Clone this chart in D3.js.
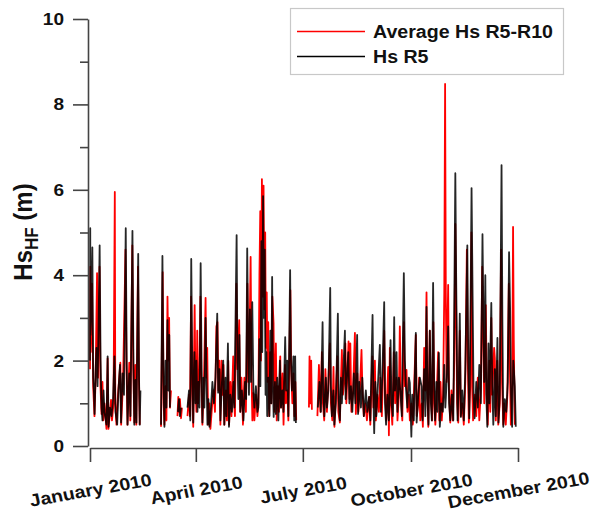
<!DOCTYPE html>
<html>
<head>
<meta charset="utf-8">
<script src="https://cdn.jsdelivr.net/npm/d3@7"></script>
<style>
  html, body { margin: 0; padding: 0; background: #fff; }
  svg { display: block; }
  text { font-family: "Liberation Sans", Arial, Helvetica, sans-serif; font-weight: bold; fill: #111; }
</style>
</head>
<body>
<svg id="chart" width="592" height="515"></svg>
<script>
// Axis ticks
const yTickValues = [0, 2, 4, 6, 8, 10];
const yMinorTicks = [1, 3, 5, 7, 9];
const xTickDays = [0, 90, 181, 273, 364];   // days after 1 Jan 2010

// Series labels
const seriesNames = ["Average Hs R5-R10", "Hs R5"];

// [day of 2010 (0 = 1 Jan), Hs in m]; null marks a gap in the record
const hsAvg = [
  [0,1.8],[0.3,4.2],[0.6,2.2],[1.7,3.8],[2.7,1.4],[3.8,0.7],[4.7,1.5],[6.0,4.05],[6.8,1.6],[8.1,4.2],
  [8.9,1.4],[9.8,0.75],[10.6,1.5],[11.3,0.6],[12.3,1.0],[14.0,0.4],[15.0,2.05],[15.7,0.4],[17.0,0.8],[17.9,1.08],
  [18.7,0.6],[20.0,1.0],[21.1,5.95],[21.5,1.0],[22.5,0.5],[23.8,1.2],[25.8,1.95],[26.5,0.5],[28.1,1.5],[30.2,4.6],
  [31.0,1.9],[31.9,0.5],[33.4,1.95],[34.3,0.6],[36.0,4.7],[36.8,1.9],[37.7,0.55],[38.5,1.9],[39.4,0.5],[40.8,4.2],
  [41.7,1.5],[42.3,0.5],[50,null],
  [60.4,0.45],[61.8,4.07],[62.6,1.0],[63.3,0.5],[64.2,1.4],[65.0,0.6],[65.9,3.5],[66.6,2.0],[67.3,3.0],[68.0,0.9],
  [68.9,1.3],[71,null],
  [74.4,0.7],[75.1,1.15],[75.7,0.8],[76.5,1.1],[77.4,0.65],[78.2,0.9],[80,null],
  [82.9,0.7],[84.2,1.2],[85.0,0.7],[86.0,3.5],[86.9,1.2],[87.8,0.45],[89.0,3.3],[89.7,1.4],[90.5,0.8],[91.2,2.7],
  [92.0,1.0],[93.1,1.6],[93.9,3.5],[94.8,1.4],[95.6,0.5],[96.9,1.5],[98.3,3.47],[99.0,1.6],[99.7,2.3],[100.5,0.5],
  [101.6,1.0],[102.4,0.4],[103.7,0.9],[105.0,1.3],[106.3,0.8],[107.5,2.8],[108.4,2.9],[109.2,1.3],[110.1,2.0],[110.9,0.5],
  [112.0,2.0],[112.6,1.2],[113.5,1.9],[114.3,0.5],[115.6,1.3],[116.5,0.6],[117.6,2.0],[118.3,0.5],[119.4,1.5],[120.3,0.7],
  [121.8,2.1],[122.4,1.08],[123.3,0.7],[124.5,3.8],[125.4,1.8],[126.9,2.95],[127.7,0.8],[128.8,1.6],[130.1,0.5],[131.3,1.6],
  [132.6,0.8],[133.9,3.8],[134.6,1.5],[135.6,2.3],[136.6,4.43],[137.4,1.6],[138.1,0.6],[138.8,1.24],[139.8,0.6],[141.1,1.2],
  [142.4,0.7],[143.2,1.0],[144.1,4.0],[144.8,5.5],[145.4,2.0],[146.2,6.25],[146.9,3.5],[147.6,6.1],[148.3,3.2],[149.0,5.0],
  [149.6,2.3],[150.3,3.6],[151.0,1.5],[151.6,2.9],[152.4,0.7],[153.4,2.2],[154.3,1.0],[155.1,3.5],[156.1,2.88],[156.8,0.8],
  [158.1,2.4],[158.8,0.6],[159.8,1.4],[160.7,0.8],[161.8,2.1],[162.5,0.9],[163.8,1.7],[164.6,0.5],[165.8,1.9],[166.6,1.0],
  [167.9,1.3],[168.7,0.6],[170.4,3.65],[171.1,1.8],[172.1,1.0],[173.1,1.7],[173.8,0.7],[174.7,1.5],[175.4,0.6],[180,null],
  [186.2,0.9],[186.7,2.1],[187.4,1.0],[188.1,2.0],[188.7,0.85],[191,null],
  [193.4,0.7],[194.7,1.9],[195.9,0.8],[197.2,2.2],[198.1,1.0],[199.2,0.6],[200.2,1.8],[201.5,0.8],[202.7,1.5],[204.0,2.4],
  [204.9,1.0],[206.1,0.6],[207.1,1.85],[207.9,0.45],[209.1,1.2],[210.4,2.1],[211.2,0.8],[212.5,0.55],[213.4,1.5],[214.2,2.25],
  [215.1,1.2],[216.3,1.5],[217.2,2.4],[218.0,1.0],[219.9,2.45],[220.7,1.1],[221.4,2.4],[222.3,0.8],[223.6,1.2],[225.3,2.65],
  [226.1,0.75],[227.4,1.7],[228.2,0.8],[229.5,1.3],[230.9,2.25],[231.8,1.2],[232.9,0.7],[234.2,1.0],[235.5,0.6],[237.4,1.15],
  [238.4,0.5],[240.1,2.1],[241.0,0.9],[242.3,2.0],[243.1,0.6],[244.4,1.2],[245.7,0.8],[246.9,1.6],[248.2,0.7],[250.2,2.7],
  [251.0,1.2],[252.0,0.6],[253.6,1.85],[254.2,0.25],[255.0,2.3],[255.9,1.0],[257.1,0.5],[258.4,2.2],[259.5,1.0],[260.7,1.6],
  [261.5,0.6],[262.7,1.2],[263.5,2.8],[264.4,1.2],[265.6,0.6],[266.9,2.9],[267.8,1.4],[269.2,1.78],[270.0,0.8],[271.2,1.2],
  [272.0,0.6],[273.3,1.0],[274.6,0.5],[277.1,2.6],[277.9,0.7],[279.2,1.0],[279.9,1.6],[280.9,0.6],[282.2,1.0],[283.1,0.45],
  [284.2,2.3],[285.2,1.3],[286.2,3.6],[286.9,1.2],[287.7,0.45],[289.0,2.7],[289.9,1.2],[291.0,0.6],[292.0,2.9],[292.8,1.0],
  [293.7,0.5],[295.0,1.3],[296.1,2.2],[297.1,0.6],[298.1,1.5],[299.2,0.6],[300.3,1.2],[301.3,3.6],[302.0,8.48],[302.6,3.58],
  [303.3,1.5],[304.6,3.77],[305.3,1.3],[306.4,0.55],[307.4,1.3],[308.6,0.6],[309.8,2.0],[310.7,5.2],[311.4,3.2],[312.2,1.0],
  [313.2,0.55],[314.5,2.7],[315.4,0.7],[316.6,1.0],[317.9,0.5],[319.2,1.5],[320.5,4.6],[321.3,2.0],[322.2,0.55],[323.4,1.4],
  [324.4,5.0],[325.1,1.3],[325.8,0.6],[327.3,1.2],[328.5,0.7],[329.8,1.6],[331.1,0.6],[332.4,1.3],[333.6,4.2],[334.5,2.4],
  [335.3,1.0],[336.6,3.3],[337.5,1.2],[338.3,0.5],[339.6,2.0],[340.4,0.8],[341.3,3.0],[342.1,1.2],[343.7,2.3],[344.3,2.06],
  [345.1,0.6],[346.4,2.0],[347.2,0.5],[348.5,1.0],[349.6,4.6],[350.4,1.5],[351.5,0.5],[352.3,1.0],[353.6,0.5],[355.0,1.2],
  [356.2,3.8],[357.0,2.0],[357.9,0.5],[359.1,1.5],[359.8,5.13],[360.4,2.5],[361.3,0.5]
];

const hsR5 = [
  [0,2.0],[0.2,5.1],[0.4,2.6],[1.0,3.0],[2.0,4.65],[2.7,1.6],[3.4,1.25],[3.9,0.75],[4.7,1.7],[5.5,2.3],
  [6.4,1.4],[7.2,2.6],[8.2,4.7],[9.0,2.0],[9.8,0.9],[10.6,0.6],[11.5,1.3],[12.3,0.8],[14.0,0.5],[15.0,2.1],
  [15.8,0.45],[17.0,0.9],[18.3,0.7],[19.6,1.1],[20.8,2.1],[21.7,0.8],[23.1,0.5],[24.2,1.3],[25.5,1.9],[26.4,0.55],
  [27.6,1.7],[28.9,1.2],[30.4,5.1],[31.2,2.0],[31.9,0.5],[33.4,1.7],[34.4,0.7],[36.1,5.04],[37.0,1.8],[37.7,0.5],
  [38.7,1.55],[39.5,0.55],[41.0,4.5],[41.7,1.6],[42.3,0.5],[42.9,1.3],[50,null],
  [60.4,0.5],[61.6,4.45],[62.5,1.5],[63.3,0.45],[64.2,2.0],[65.0,0.9],[65.9,2.95],[66.7,1.3],[67.4,2.6],[68.0,0.9],[71,null],
  [74.8,0.8],[75.7,1.1],[76.5,0.7],[77.4,0.9],[80,null],
  [82.9,0.9],[84.2,1.3],[85.3,0.6],[86.1,4.38],[87.0,1.8],[87.8,0.55],[88.8,2.2],[89.7,1.0],[90.5,2.0],[91.4,0.8],
  [92.2,1.5],[93.1,0.9],[94.1,4.28],[94.9,1.8],[95.6,0.55],[96.5,1.6],[97.3,0.9],[98.3,3.0],[99.0,1.7],[99.9,0.5],
  [100.7,1.1],[101.6,0.45],[102.9,0.9],[104.1,1.5],[105.4,1.0],[106.7,1.6],[108.2,3.1],[109.0,1.25],[110.1,1.8],[110.9,0.6],
  [112.2,1.5],[113.3,2.0],[114.2,0.5],[115.2,1.6],[116.0,0.7],[117.3,2.4],[118.2,0.45],[119.4,1.2],[120.7,0.8],[122.0,1.5],
  [122.8,0.9],[124.7,4.94],[125.4,2.0],[126.2,1.1],[127.1,2.6],[127.9,0.8],[129.2,1.3],[130.5,0.6],[131.8,1.5],[132.8,1.1],
  [133.7,4.63],[134.5,2.4],[135.2,1.2],[136.0,3.2],[136.9,1.5],[138.0,3.37],[139.0,1.24],[139.8,0.9],[141.1,1.4],[142.4,0.8],
  [143.2,0.9],[144.1,2.5],[144.9,1.4],[145.8,4.8],[146.5,2.2],[147.2,5.85],[147.9,3.0],[148.6,4.6],[149.3,1.2],[150.0,2.2],
  [150.7,0.7],[151.7,1.6],[152.6,0.7],[153.4,2.7],[154.1,1.0],[154.9,3.96],[155.6,1.4],[156.2,0.68],[157.3,1.5],[158.1,0.75],
  [159.2,1.6],[160.2,0.6],[161.5,2.0],[162.4,0.9],[163.6,1.3],[164.5,0.8],[166.0,2.55],[166.8,1.3],[167.7,2.0],[168.7,0.7],
  [170.2,4.12],[170.9,2.0],[171.7,1.3],[173.0,2.1],[173.7,0.6],[174.5,2.1],[175.1,0.54],[180,null],
  [193.8,0.9],[195.1,1.5],[196.4,0.8],[197.8,2.9],[198.5,1.2],[199.3,0.7],[200.6,1.6],[201.5,0.9],[202.7,1.3],[204.3,3.7],
  [204.9,1.4],[205.7,0.7],[207.0,1.3],[207.8,0.5],[209.1,1.0],[210.8,3.1],[211.5,1.1],[212.5,0.6],[213.4,1.6],[214.2,1.0],
  [215.5,1.8],[216.8,2.7],[217.4,1.1],[218.5,1.6],[219.7,2.2],[220.6,1.0],[221.9,1.4],[223.1,0.8],[224.4,1.7],[225.7,1.0],
  [227.2,2.6],[228.0,0.75],[229.1,1.5],[230.4,0.9],[231.6,1.6],[232.9,0.7],[234.6,1.3],[235.9,0.8],[237.4,1.15],[238.4,0.6],
  [240.3,3.07],[241.0,1.2],[241.7,0.3],[242.7,1.5],[243.5,0.7],[244.8,1.4],[246.5,2.37],[247.4,0.8],[248.6,1.6],[250.2,3.37],
  [250.9,1.0],[251.8,0.5],[252.9,1.2],[254.2,0.6],[255.6,2.48],[256.4,1.0],[257.6,0.7],[258.7,3.02],[259.4,1.3],[260.7,2.2],
  [261.5,0.8],[262.7,1.6],[263.9,1.3],[265.2,0.7],[266.9,4.05],[267.8,2.0],[268.6,1.4],[269.9,0.9],[271.2,1.6],[272.0,1.48],
  [273.3,0.22],[274.1,1.2],[275.4,0.6],[277.1,2.65],[277.8,0.55],[279.2,1.2],[280.5,1.6],[282.0,1.4],[282.8,0.6],[284.2,1.8],
  [285.2,0.7],[286.2,3.26],[287.0,1.1],[287.9,0.5],[289.0,2.7],[289.9,1.0],[290.7,0.6],[291.8,3.82],[292.7,1.3],[293.5,0.6],
  [294.5,1.5],[295.4,0.8],[296.7,2.18],[297.5,0.45],[298.8,1.0],[300.1,0.8],[301.3,1.9],[302.2,0.9],[303.5,1.6],[304.6,2.8],
  [305.4,1.0],[306.4,0.6],[307.7,1.2],[309.0,0.6],[310.7,6.39],[311.4,4.0],[312.0,2.3],[312.6,0.6],[313.7,1.6],[314.5,3.1],
  [315.4,0.68],[316.6,1.3],[317.9,0.6],[319.2,1.8],[320.9,4.7],[321.7,2.0],[322.6,0.65],[323.4,2.5],[324.5,6.04],[325.4,3.5],
  [326.2,1.2],[327.1,0.65],[328.5,1.5],[329.8,0.9],[331.1,1.9],[332.4,1.0],[333.8,4.96],[334.6,3.0],[335.3,1.5],[336.2,4.0],
  [337.0,1.2],[337.9,0.45],[338.9,2.4],[339.7,1.0],[341.3,3.35],[342.1,1.4],[343.0,0.5],[344.3,1.8],[345.1,0.7],[346.5,2.53],
  [347.4,0.55],[348.5,1.2],[350.0,6.58],[350.7,3.0],[351.5,0.45],[352.8,1.1],[354.0,0.8],[355.3,1.5],[356.4,4.54],[357.3,3.2],
  [358.1,1.2],[359.0,0.45],[360.0,2.0],[361.3,1.4],[362.1,0.45]
];

// ---- layout ----
const svg = d3.select("#chart");
const SX = 1.12;                       // horizontal stretch of the bold lettering
const t0 = Date.UTC(2010, 0, 1);
const toDate = d => new Date(t0 + d * 86400000);

const x = d3.scaleUtc().domain([toDate(0), toDate(364)]).range([90, 518]);
const y = d3.scaleLinear().domain([0, 10]).range([446, 19]);

// ---- series ----
const line = d3.line()
  .defined(d => d[1] != null)
  .x(d => x(toDate(d[0])))
  .y(d => y(d[1]));

svg.append("path").datum(hsAvg)
  .attr("d", line).attr("fill", "none")
  .attr("stroke", "#ff0000").attr("stroke-width", 1.8)
  .attr("stroke-linejoin", "round");

svg.append("path").datum(hsR5)
  .attr("d", line).attr("fill", "none")
  .attr("stroke", "#000").attr("stroke-opacity", 0.85).attr("stroke-width", 1.8)
  .attr("stroke-linejoin", "round");

// ---- y axis ----
const axisColor = "#444";
const yAxisG = svg.append("g").attr("transform", "translate(88,0)")
  .call(d3.axisLeft(y).tickValues(yTickValues).tickSize(15).tickSizeOuter(0)
        .tickPadding(6.4).tickFormat(d3.format("d")));
yAxisG.append("g")
  .call(d3.axisLeft(y).tickValues(yMinorTicks).tickSize(8).tickFormat(""))
  .select(".domain").remove();
yAxisG.selectAll("path, line").attr("stroke", axisColor).attr("stroke-width", 1.6);
yAxisG.selectAll("text")
  .attr("fill", "#111").attr("font-size", 17).attr("font-family", null)
  .attr("transform", `scale(${SX},1)`);

// ---- x axis ----
const xAxisG = svg.append("g").attr("transform", "translate(0,448)")
  .call(d3.axisBottom(x).tickValues(xTickDays.map(toDate)).tickSize(14).tickSizeOuter(0)
        .tickFormat(d3.utcFormat("%B %Y")));
xAxisG.selectAll("path, line").attr("stroke", axisColor).attr("stroke-width", 1.6);
xAxisG.selectAll("text")
  .attr("fill", "#111").attr("font-size", 17.5).attr("font-family", null)
  .attr("y", null).attr("dy", "0.35em")
  .attr("text-anchor", "middle")
  .attr("transform", `translate(0,42) scale(${SX},1) rotate(-11.2)`);
svg.selectAll(".domain").attr("fill", "none");

// ---- y axis title ----
const yTitle = svg.append("text")
  .attr("text-anchor", "middle")
  .attr("font-size", 24)
  .attr("transform", `translate(32,232) scale(1.1,1) rotate(-90)`);
yTitle.append("tspan").text("Hs");
yTitle.append("tspan").attr("font-size", 17).attr("dy", 5).text("HF");
yTitle.append("tspan").attr("dy", -5).text(" (m)");

// ---- legend ----
const legend = svg.append("g");
legend.append("rect")
  .attr("x", 290.5).attr("y", 8.5).attr("width", 273).attr("height", 66)
  .attr("fill", "#fff").attr("stroke", "#c8c8c8").attr("stroke-width", 1.2);
const legendColors = ["#ff0000", "#000"];
seriesNames.forEach((name, i) => {
  const ly = 31.5 + i * 25;
  legend.append("line")
    .attr("x1", 297).attr("x2", 365).attr("y1", ly).attr("y2", ly)
    .attr("stroke", legendColors[i]).attr("stroke-width", 1.5);
  legend.append("text")
    .attr("font-size", 17.5)
    .attr("transform", `translate(373,${ly + 6.3}) scale(${SX},1)`)
    .text(name);
});
</script>
</body>
</html>
